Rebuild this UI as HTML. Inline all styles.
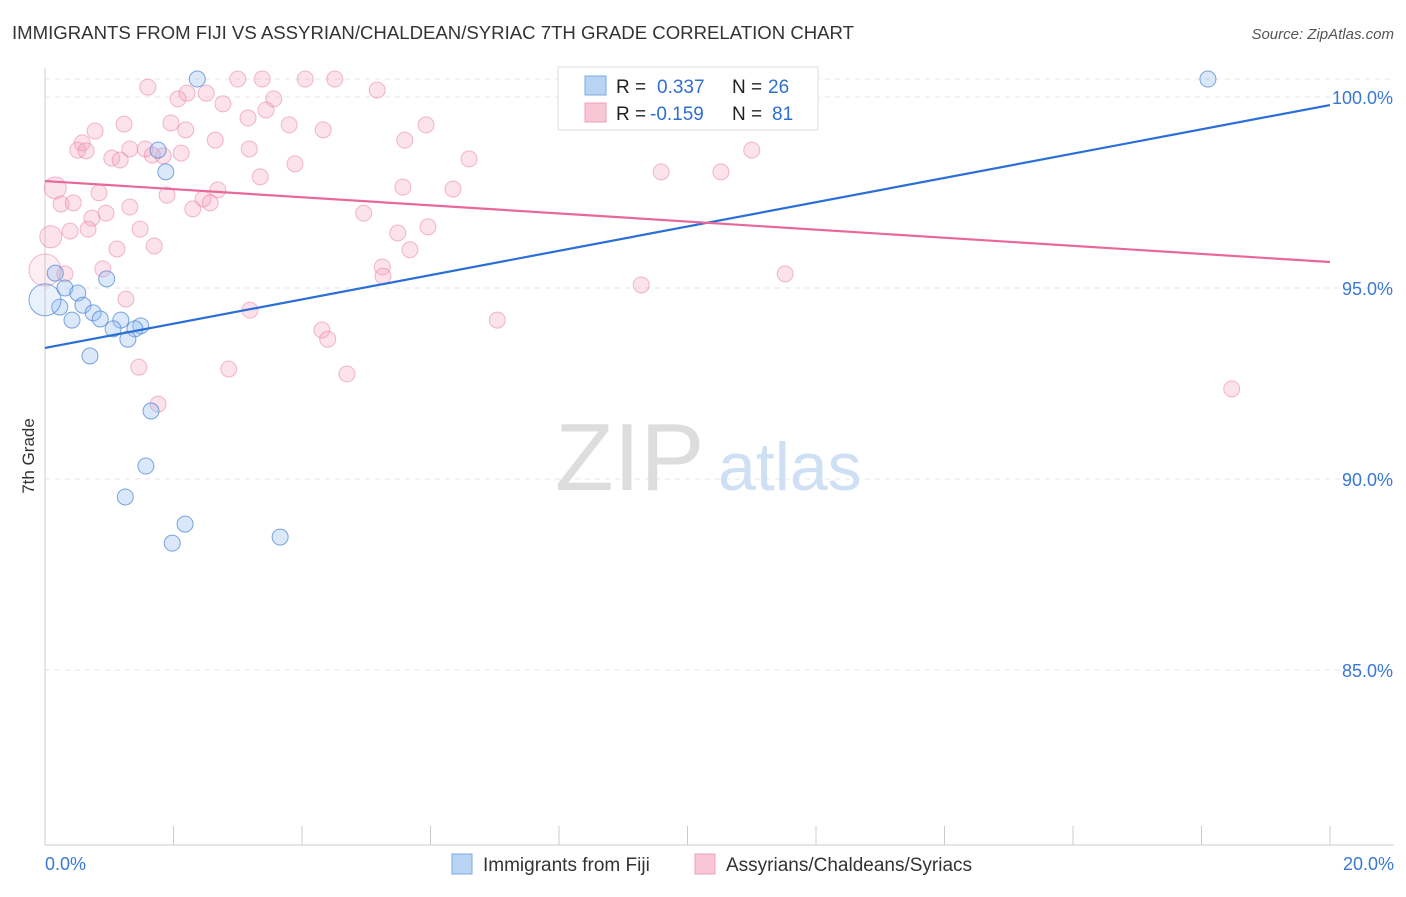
<!DOCTYPE html>
<html><head><meta charset="utf-8"><style>
body{margin:0;background:#fff;font-family:"Liberation Sans",sans-serif;}
svg text{font-family:"Liberation Sans",sans-serif;}
</style></head><body>
<svg id="chart" width="1406" height="892" xmlns="http://www.w3.org/2000/svg">
<text x="12" y="39" font-size="18" fill="#333" textLength="842" lengthAdjust="spacingAndGlyphs">IMMIGRANTS FROM FIJI VS ASSYRIAN/CHALDEAN/SYRIAC 7TH GRADE CORRELATION CHART</text>
<text x="1394" y="39" font-size="15" fill="#555" font-style="italic" text-anchor="end">Source: ZipAtlas.com</text>
<text x="34" y="456" font-size="17" fill="#333" text-anchor="middle" transform="rotate(-90 34 456)">7th Grade</text>
<g id="grid"></g>
<g id="ticks"></g>
<text x="555" y="490" font-size="96" fill="#ddd" font-family="Liberation Serif">ZIP</text>
<text x="718" y="490" font-size="68" fill="#cfe0f4">atlas</text>
<g id="pts"></g>
<g id="lines"></g>
<g>
<rect x="558" y="67" width="260" height="63" fill="#fff" stroke="#ddd"/>
<rect x="585" y="76" width="21" height="19" fill="#b8d4f4" stroke="#7aaae6"/>
<rect x="585" y="103" width="21" height="19" fill="#f9c6d6" stroke="#eea0ba"/>
<text x="616" y="93" font-size="19" fill="#222">R = </text><text x="657" y="93" font-size="19" fill="#2f6fd0">0.337</text>
<text x="732" y="93" font-size="19" fill="#222">N = </text><text x="768" y="93" font-size="19" fill="#2f6fd0">26</text>
<text x="616" y="120" font-size="19" fill="#222">R = </text><text x="650" y="120" font-size="19" fill="#2f6fd0">-0.159</text>
<text x="732" y="120" font-size="19" fill="#222">N = </text><text x="772" y="120" font-size="19" fill="#2f6fd0">81</text>
</g>
<g>
<rect x="452" y="854" width="20" height="20" fill="#b8d4f4" stroke="#7aaae6"/>
<text x="483" y="871" font-size="19" fill="#333">Immigrants from Fiji</text>
<rect x="695" y="854" width="20" height="20" fill="#f9c6d6" stroke="#eea0ba"/>
<text x="726" y="871" font-size="19" fill="#333">Assyrians/Chaldeans/Syriacs</text>
</g>
</svg>
<script>
const yTicks=[100,95,90,85];
const yTickLabels=["100.0%","95.0%","90.0%","85.0%"];
const xTickLabels=["0.0%","20.0%"];
const fijiX=[2.37,18.10,1.76,1.88,0.16,0.96,0.31,0.51,0.23,0.59,0.75,0.86,0.42,1.18,1.49,1.06,1.40,1.29,0.70,1.65,1.57,1.25,2.18,1.98,3.66,0.0];
const fijiY=[100.47,100.47,98.61,98.04,95.39,95.24,95.0,94.87,94.5,94.55,94.35,94.19,94.16,94.16,94.01,93.93,93.93,93.66,93.22,91.78,90.34,89.53,88.82,88.32,88.48,94.69];
const asyX=[3.00,3.38,4.05,4.51,2.21,2.51,5.17,2.07,3.56,2.77,3.44,3.16,8.89,1.23,1.96,3.80,5.93,0.78,2.19,4.33,0.58,2.65,5.60,0.51,1.32,1.56,0.64,2.12,3.18,11.0,1.04,1.17,1.67,1.84,6.60,3.89,9.59,10.52,3.35,0.16,5.57,6.35,0.84,1.90,2.69,2.46,2.57,0.25,0.44,1.32,2.30,0.95,4.96,0.73,1.48,0.39,0.67,5.96,0.09,5.49,1.12,1.70,5.68,0.90,5.25,0.31,11.52,5.26,9.28,1.26,3.19,7.04,4.31,4.40,1.46,2.86,4.70,1.76,18.47,0.0,1.60];
const asyY=[100.47,100.47,100.47,100.47,100.1,100.1,100.18,99.95,99.95,99.82,99.66,99.45,99.48,99.29,99.32,99.27,99.27,99.11,99.14,99.14,98.80,98.87,98.87,98.61,98.64,98.64,98.59,98.53,98.64,98.61,98.40,98.35,98.48,98.46,98.38,98.25,98.04,98.04,97.91,97.62,97.64,97.59,97.49,97.43,97.57,97.33,97.23,97.20,97.23,97.12,97.07,96.96,96.96,96.83,96.54,96.49,96.54,96.60,96.34,96.44,96.02,96.10,96.0,95.50,95.55,95.37,95.37,95.31,95.08,94.71,94.42,94.16,93.90,93.66,92.93,92.88,92.75,91.96,92.36,95.47,100.26];
const fijiTrend=[93.43,99.79];
const asyTrend=[97.80,95.68];
const NS="http://www.w3.org/2000/svg";
const X=v=>45+v*64.25;
const Y=v=>97+(100-v)*38.2;
function mk(tag,attrs,parent){const e=document.createElementNS(NS,tag);for(const k in attrs)e.setAttribute(k,attrs[k]);parent.appendChild(e);return e;}
const grid=document.getElementById('grid'),ticks=document.getElementById('ticks'),pts=document.getElementById('pts'),lines=document.getElementById('lines');
let g0=mk('line',{x1:45,x2:1394,y1:79,y2:79,stroke:'#e4e4e4','stroke-dasharray':'5,5'},grid);


yTicks.forEach((t,i)=>{
 const l=mk('line',{x1:45,x2:1394,y1:Y(t),y2:Y(t),stroke:'#e4e4e4','stroke-dasharray':'5,5'},grid);
 
 
 const tx=mk('text',{x:1393,y:Y(t)+7,'font-size':18,fill:'#3a78d4','text-anchor':'end'},ticks);
 tx.textContent=yTickLabels[i];
 
 
});
let ax=mk('line',{x1:45,x2:1394,y1:845,y2:845,stroke:'#ccc'},ticks);


let ay=mk('line',{x1:45,x2:45,y1:68,y2:845,stroke:'#ccc'},ticks);


for(let v=0;v<=20;v+=2){
 const l=mk('line',{x1:X(v),x2:X(v),y1:826,y2:845,stroke:'#ccc'},ticks);
 
 
}
[[0,'start',45],[20,'end',1394]].forEach((d,i)=>{
 const t=mk('text',{x:d[2],y:870,'font-size':18,fill:'#3a78d4','text-anchor':d[1]},ticks);
 t.textContent=xTickLabels[i];
 
 
});
function big(x,y){return x<0.05?16:((x<0.2&&(y>96.2&&y<97.7))?11:8);}
asyX.forEach((x,i)=>{
 const b=x<0.05;
 const c=mk('circle',{cx:X(x),cy:Y(asyY[i]),r:big(x,asyY[i]),fill:b?'rgba(244,160,190,0.18)':'rgba(244,160,190,0.3)',stroke:'rgba(232,130,165,0.55)','stroke-width':1},pts);
 
 
});
fijiX.forEach((x,i)=>{
 const b=x<0.05;
 const c=mk('circle',{cx:X(x),cy:Y(fijiY[i]),r:b?16:8,fill:b?'rgba(150,190,240,0.22)':'rgba(150,190,240,0.35)',stroke:'rgba(70,130,210,0.7)','stroke-width':1},pts);
 
 
});
const lf=mk('line',{x1:X(0),y1:Y(fijiTrend[0]),x2:X(20),y2:Y(fijiTrend[1]),stroke:'#2a6fd6','stroke-width':2.2},lines);


const la=mk('line',{x1:X(0),y1:Y(asyTrend[0]),x2:X(20),y2:Y(asyTrend[1]),stroke:'#e8689a','stroke-width':2.2},lines);


</script>
</body></html>
